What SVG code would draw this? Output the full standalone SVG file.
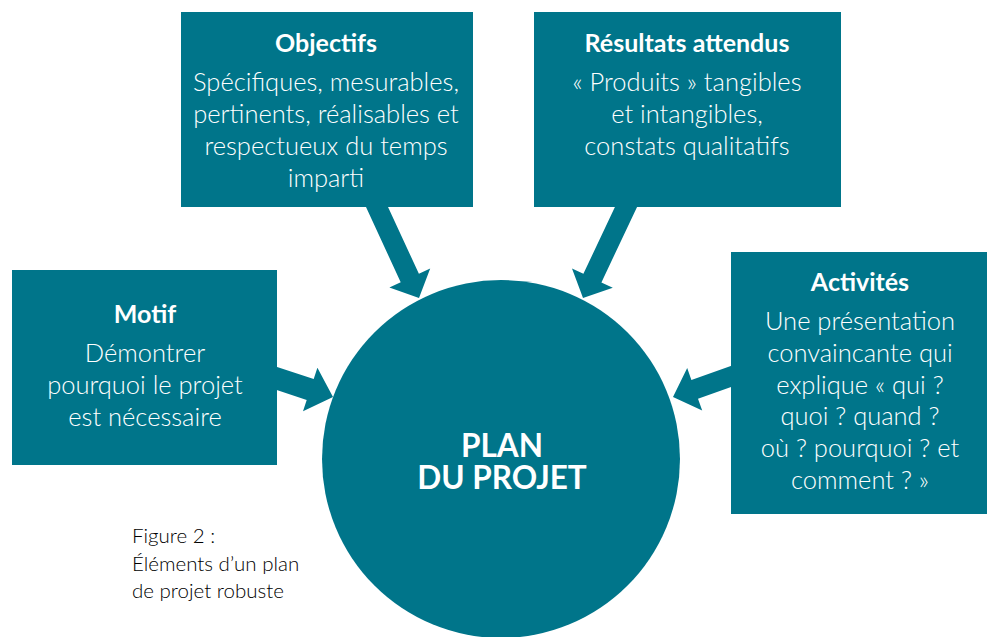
<svg xmlns="http://www.w3.org/2000/svg" width="987" height="637" viewBox="0 0 987 637">
<style>
.box{fill:#00758A}
.arrow{fill:#00758A}
.title{font-family:Lato,"Open Sans","Liberation Sans",sans-serif;font-weight:700;font-size:25px;fill:#ffffff;text-anchor:middle}
.body{font-family:Lato,"Open Sans","Liberation Sans",sans-serif;font-weight:300;font-size:25.5px;fill:#ffffff;text-anchor:middle}
.center{font-family:Lato,"Open Sans","Liberation Sans",sans-serif;font-weight:700;font-size:31.5px;fill:#ffffff;text-anchor:middle}
.caption{font-family:Lato,"Open Sans","Liberation Sans",sans-serif;font-weight:300;font-size:20.5px;fill:#000000}
</style>
<rect width="987" height="637" fill="#ffffff"/>
<g id="connectors">
<polygon class="arrow" points="363.7,202.1 400.7,282.2 389.4,287.4 419,298 430.2,268.6 418.9,273.8 381.9,193.7"/>
<polygon class="arrow" points="621.3,193.6 583.4,273.8 572.0,268.5 583,298 612.8,287.7 601.4,282.4 639.3,202.2"/>
<polygon class="arrow" points="271.0,365.0 313.7,379.1 317.4,367.7 333,397 303.0,411.3 306.7,399.9 264.0,385.8"/>
<polygon class="arrow" points="737.1,363.8 691.4,379.9 687.2,368.0 673,397 702.2,410.6 698.0,398.7 743.7,382.6"/>
</g>
<g id="objectifs">
<rect class="box" x="181" y="12" width="292" height="195"/>
<text class="title" x="326" y="52">Objectifs</text>
<text class="body" x="326" y="91">Spécifiques, mesurables,</text>
<text class="body" x="326" y="123">pertinents, réalisables et</text>
<text class="body" x="326" y="155">respectueux du temps</text>
<text class="body" x="326" y="187">imparti</text>
</g>
<g id="resultats">
<rect class="box" x="534" y="12" width="307" height="195"/>
<text class="title" x="687" y="52">Résultats attendus</text>
<text class="body" x="687" y="91">« Produits » tangibles</text>
<text class="body" x="687" y="123">et intangibles,</text>
<text class="body" x="687" y="155">constats qualitatifs</text>
</g>
<g id="motif">
<rect class="box" x="12" y="270" width="265" height="195"/>
<text class="title" x="145" y="323">Motif</text>
<text class="body" x="145" y="362">Démontrer</text>
<text class="body" x="145" y="394">pourquoi le projet</text>
<text class="body" x="145" y="426">est nécessaire</text>
</g>
<g id="activites">
<rect class="box" x="731" y="252" width="256" height="262"/>
<text class="title" x="860" y="291">Activités</text>
<text class="body" x="860" y="330">Une présentation</text>
<text class="body" x="860" y="362">convaincante qui</text>
<text class="body" x="860" y="394">explique « qui ?</text>
<text class="body" x="860" y="425">quoi ? quand ?</text>
<text class="body" x="860" y="457">où ? pourquoi ? et</text>
<text class="body" x="860" y="489">comment ? »</text>
</g>
<g id="plan">
<circle class="box" cx="501" cy="459" r="179"/>
<text class="center" x="502" y="457">PLAN</text>
<text class="center" x="502" y="489">DU PROJET</text>
</g>
<g id="caption">
<text class="caption" x="132" y="543">Figure 2 :</text>
<text class="caption" x="132" y="571">Éléments d’un plan</text>
<text class="caption" x="132" y="598">de projet robuste</text>
</g>
</svg>
